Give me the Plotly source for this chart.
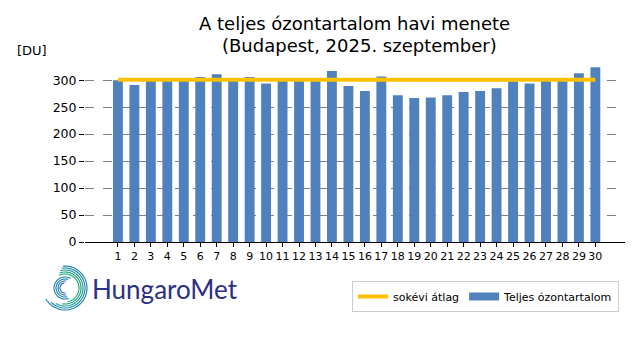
import numpy as np
import plotly.graph_objects as go

days = list(range(1, 31))
ozone = [300, 291, 299, 299, 300, 306, 311, 300, 306, 294, 300, 300, 300, 317, 289,
         280, 307, 272, 267, 268, 272, 278, 280, 285, 298, 294, 300, 300, 313, 324]
avg_value = 301
avg_days = [1, 30]
avg_vals = [avg_value, avg_value]
y_ticks = [0, 50, 100, 150, 200, 250, 300]

W, H = 640, 360
ML, MR, MT, MB = 85, 15, 64, 118
PW, PH = W - ML - MR, H - MT - MB
Y_MAX = 330
BAR_COLOR = "#4F81BD"
LINE_COLOR = "#FFC000"

def px(xp):
    return (xp - ML) / PW

def py(yp):
    return (H - MB - yp) / PH

fig = go.Figure()
fig.add_trace(go.Bar(x=days, y=ozone, name="Teljes ózontartalom",
                     marker=dict(color=BAR_COLOR, line=dict(width=0)),
                     width=0.6, showlegend=False))
fig.add_trace(go.Scatter(x=avg_days, y=avg_vals, mode="lines", name="sokévi átlag",
                         line=dict(color=LINE_COLOR, width=4), legendrank=1))
# legend proxy for the bar series (wide rectangle patch)
fig.add_trace(go.Scatter(x=[None], y=[None], mode="lines", name="Teljes ózontartalom",
                         line=dict(color=BAR_COLOR, width=8), legendrank=2))

# logo spiral
shapes = []
cx, cy = 65, 288
def arc(r, a0, a1, color, n=40):
    ts = np.radians(np.linspace(a0, a1, n))
    pts = [(px(cx + r * np.cos(t)), py(cy - r * np.sin(t))) for t in ts]
    d = "M " + " L ".join(f"{x:.5f},{y:.5f}" for x, y in pts)
    return dict(type="path", path=d, xref="paper", yref="paper",
                line=dict(color=color, width=1.1))

outer = [(22, 95, -150), (20, 100, -135), (18, 105, -120), (16, 110, -100), (14, 115, -80)]
cols_o = ["#1E7DB0", "#1A8AA0", "#16978E", "#12A07C", "#10A86E"]
for (r, a0, a1), c in zip(outer, cols_o):
    shapes.append(arc(r, a0, a1, c))
inner = [(11, 60, 290), (9, 70, 285), (7, 80, 280), (5, 95, 275)]
cols_i = ["#1A86A8", "#1D7FB0", "#2078B5", "#2272B8"]
for (r, a0, a1), c in zip(inner, cols_i):
    shapes.append(arc(r, a0, a1, c))

def ann(text, xp, yp, size, xanchor="center", color="black", family="DejaVu Sans"):
    return dict(text=text, x=px(xp), y=py(yp), xref="paper", yref="paper",
                xanchor=xanchor, yanchor="middle", showarrow=False,
                font=dict(size=size, family=family, color=color))

fig.update_layout(
    width=W, height=H,
    margin=dict(l=ML, r=MR, t=MT, b=MB, autoexpand=False),
    paper_bgcolor="white", plot_bgcolor="white",
    font=dict(family="DejaVu Sans", color="black"),
    showlegend=True,
    legend=dict(orientation="h", x=px(619), xanchor="right", y=py(281), yanchor="top",
                bordercolor="#CCCCCC", borderwidth=1, bgcolor="white",
                font=dict(size=11, family="DejaVu Sans"), traceorder="normal",
                itemwidth=30),
    shapes=shapes,
    annotations=[
        ann("A teljes ózontartalom havi menete", 354, 23, 18),
        ann("(Budapest, 2025. szeptember)", 359, 45, 18),
        ann("[DU]", 15, 50, 13, xanchor="left"),
        ann("HungaroMet", 90, 289, 26, xanchor="left", color="#2B2F86", family="Lato"),
    ],
)
fig.update_xaxes(range=[-1.0, 31.8], tickvals=days, ticktext=[str(d) for d in days],
                 showline=True, linecolor="black", linewidth=1,
                 ticks="outside", ticklen=4, tickcolor="black",
                 showgrid=False, zeroline=False, tickfont=dict(size=11))
fig.update_yaxes(range=[0, Y_MAX], tickvals=y_ticks,
                 showline=False, ticks="outside", ticklen=5, tickcolor="black",
                 showgrid=True, gridcolor="#808080", griddash="dash", gridwidth=1,
                 zeroline=False, tickfont=dict(size=12.5))

fig.write_html("out.html", config={"displayModeBar": False},
               post_script="document.body.style.margin='0';document.body.style.padding='0';")
